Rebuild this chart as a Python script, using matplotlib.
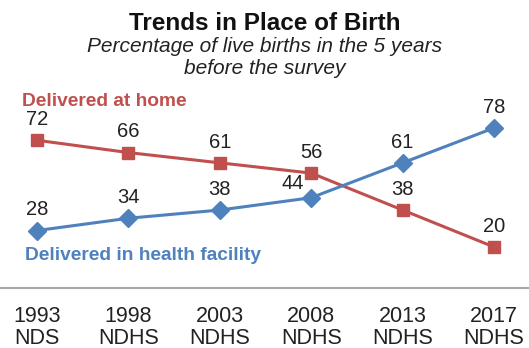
import matplotlib.pyplot as plt

plt.rcParams["font.family"] = ["Liberation Sans", "DejaVu Sans"]

surveys = ["1993\nNDS", "1998\nNDHS", "2003\nNDHS", "2008\nNDHS", "2013\nNDHS", "2017\nNDHS"]
home = [72, 66, 61, 56, 38, 20]
facility = [28, 34, 38, 44, 61, 78]

red = "#C0504D"
blue = "#4F81BD"

fig = plt.figure(figsize=(5.29, 3.48), dpi=100)
ax = fig.add_axes([0, 60 / 348, 1, 198 / 348])
x = list(range(len(surveys)))

ax.plot(x, home, color=red, lw=2.2, marker="s", ms=9, zorder=3)
ax.plot(x, facility, color=blue, lw=2.2, marker="D", ms=9, zorder=3)

for i, v in enumerate(home):
    ax.annotate(str(v), (i, v), xytext=(0, 15), textcoords="offset points",
                ha="center", va="center", fontsize=14.5, color="#222222")
for i, v in enumerate(facility):
    off = (-13, 10) if i == 3 else (0, 15)
    ax.annotate(str(v), (i, v), xytext=off, textcoords="offset points",
                ha="center", va="center", fontsize=14.5, color="#222222")

ax.set_xlim(-0.405, 5.383)
ax.set_ylim(0, 96.5)
ax.set_xticks(x)
ax.set_xticklabels(surveys, fontsize=15.5, color="#222222", linespacing=1.05)
ax.tick_params(axis="x", length=0, pad=13)
ax.set_yticks([])
for s in ["top", "left", "right"]:
    ax.spines[s].set_visible(False)
ax.spines["bottom"].set_color("#a6a6a6")
ax.spines["bottom"].set_linewidth(1.5)

ax.text(22 / 529, 1 - 102 / 348, "Delivered at home", transform=fig.transFigure,
        color=red, fontsize=13.8, fontweight="bold", va="center")
ax.text(25 / 529, 1 - 256 / 348, "Delivered in health facility", transform=fig.transFigure,
        color=blue, fontsize=13.8, fontweight="bold", va="center")

fig.text(0.5, 1 - 23 / 348, "Trends in Place of Birth", ha="center", va="center",
         fontsize=17.5, fontweight="bold", color="#111111")
fig.text(0.5, 1 - 47 / 348, "Percentage of live births in the 5 years", ha="center",
         va="center", fontsize=15, style="italic", color="#222222")
fig.text(0.5, 1 - 68 / 348, "before the survey", ha="center", va="center",
         fontsize=15, style="italic", color="#222222")

fig.savefig("out.png", dpi=100)
